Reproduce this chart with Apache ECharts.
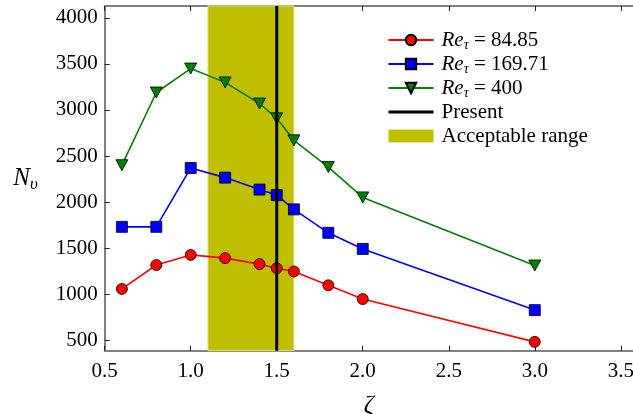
<!DOCTYPE html>
<html>
<head>
<meta charset="utf-8">
<script src="https://cdn.jsdelivr.net/npm/echarts@6/dist/echarts.min.js"></script>
<style>
html,body{margin:0;padding:0;background:#fff;}
#chart{width:633px;height:414px;}
</style>
</head>
<body>
<div id="chart"></div>
<script>
// ---- data ----
var zeta = [0.6, 0.8, 1.0, 1.2, 1.4, 1.5, 1.6, 1.8, 2.0, 3.0];
var re85  = [1055, 1315, 1425, 1390, 1325, 1280, 1245, 1095, 945, 480];
var re170 = [1730, 1730, 2370, 2265, 2135, 2075, 1920, 1665, 1490, 825];
var re400 = [2400, 3190, 3450, 3300, 3070, 2910, 2670, 2380, 2050, 1310];
var presentZeta = 1.5;
var acceptableRange = [1.1, 1.6];
var xTicks = [0.5, 1.0, 1.5, 2.0, 2.5, 3.0, 3.5];
var yTicks = [500, 1000, 1500, 2000, 2500, 3000, 3500, 4000];
var xMin = 0.5, xMax = 3.571;
var yMin = 384, yMax = 4130;

var FONT = '"Liberation Serif", "Times New Roman", serif';
function pairs(ys){ return zeta.map(function(x,i){ return [x, ys[i]]; }); }

var chart = echarts.init(document.getElementById('chart'), null, {renderer:'canvas'});

var axisLineStyle = {color:'#808080', width:2};
var tickStyle = {color:'#222', width:1};

var reRich = {
  i:{fontFamily:FONT, fontStyle:'italic', fontSize:21, color:'#000', lineHeight:24, padding:[0,0,0,3]},
  s:{fontFamily:FONT, fontStyle:'italic', fontSize:14, color:'#000', lineHeight:14, padding:[10,0,0,0]},
  n:{fontFamily:FONT, fontSize:21, color:'#000', lineHeight:24},
  m:{fontFamily:FONT, fontSize:21, color:'#000', lineHeight:24, padding:[0,0,0,3]}
};

var option = {
  animation:false,
  backgroundColor:'#fff',
  textStyle:{fontFamily:FONT},
  grid:{left:104.7, right:0, top:6, bottom:63.3, containLabel:false, outerBoundsMode:'none'},
  xAxis:[{
    type:'value', min:xMin, max:xMax, position:'bottom',
    name:'ζ', nameLocation:'middle', nameGap:43,
    nameTextStyle:{fontFamily:FONT, fontStyle:'italic', fontSize:25, color:'#000'},
    axisLine:{show:true, onZero:false, lineStyle:axisLineStyle},
    axisTick:{show:true, inside:true, length:5, lineStyle:tickStyle, customValues:xTicks},
    axisLabel:{show:true, margin:10, fontFamily:FONT, fontSize:21, color:'#000',
      customValues:xTicks, formatter:function(v){ return Number(v).toFixed(1); }},
    splitLine:{show:false}
  },{
    type:'value', min:xMin, max:xMax, position:'top',
    axisLine:{show:true, onZero:false, lineStyle:axisLineStyle},
    axisTick:{show:true, inside:true, length:5, lineStyle:tickStyle, customValues:xTicks},
    axisLabel:{show:false},
    splitLine:{show:false}
  }],
  yAxis:[{
    type:'value', min:yMin, max:yMax,
    name:'{n|N}{s|υ}', nameLocation:'middle', nameRotate:0, nameGap:67,
    nameTextStyle:{rich:{
      n:{fontFamily:FONT, fontStyle:'italic', fontSize:25, color:'#000'},
      s:{fontFamily:FONT, fontStyle:'italic', fontSize:17, color:'#000', padding:[12,0,0,0]}
    }},
    axisLine:{show:true, onZero:false, lineStyle:axisLineStyle},
    axisTick:{show:true, inside:true, length:5, lineStyle:tickStyle, customValues:yTicks},
    axisLabel:{show:true, margin:7, fontFamily:FONT, fontSize:21, color:'#000', customValues:yTicks,
      formatter:function(v){ return String(Math.round(v)); }},
    splitLine:{show:false}
  }],
  legend:{
    orient:'vertical', left:387, top:28, padding:0,
    itemWidth:45, itemHeight:13, itemGap:0,
    textStyle:{fontFamily:FONT, fontSize:21, color:'#000', lineHeight:24, rich:reRich},
    data:[
      {name:'re85'}, {name:'re170'}, {name:'re400'},
      {name:'Present', itemStyle:{opacity:0}, lineStyle:{width:3, color:'#000'}},
      {name:'Acceptable range', icon:'rect', itemStyle:{color:'#BFBF00', borderColor:'#E2E28A', borderWidth:1}}
    ],
    formatter:function(name){
      if(name==='re85') return '{i|Re}{s|τ}{n| = 84.85}';
      if(name==='re170') return '{i|Re}{s|τ}{n| = 169.71}';
      if(name==='re400') return '{i|Re}{s|τ}{n| = 400}';
      return '{m|'+name+'}';
    }
  },
  series:[
    {
      name:'Acceptable range', type:'line', data:[], z:1,
      itemStyle:{color:'#BFBF00'},
      markArea:{silent:true, z:1,
        itemStyle:{color:'#BFBF00', opacity:1, borderColor:'#E2E28A', borderWidth:1},
        data:[[{xAxis:acceptableRange[0]},{xAxis:acceptableRange[1]}]]}
    },
    {
      name:'re85', type:'line', data:pairs(re85), z:3,
      symbol:'circle', symbolSize:11,
      lineStyle:{color:'#FF0000', width:1.6},
      itemStyle:{color:'#FF0000', borderColor:'#000', borderWidth:0.8}
    },
    {
      name:'re170', type:'line', data:pairs(re170), z:3,
      symbol:'rect', symbolSize:11,
      lineStyle:{color:'#0000FF', width:1.6},
      itemStyle:{color:'#0000FF', borderColor:'#000', borderWidth:0.8}
    },
    {
      name:'re400', type:'line', data:pairs(re400), z:3,
      symbol:'path://M0,0 L10,0 L5,9 Z', symbolSize:[12,11],
      lineStyle:{color:'#008000', width:1.6},
      itemStyle:{color:'#008000', borderColor:'#000', borderWidth:0.8}
    },
    {
      name:'Present', type:'line', z:5, symbol:'none',
      data:[[presentZeta, yMin],[presentZeta, yMax]],
      lineStyle:{color:'#000', width:3},
      itemStyle:{color:'#000'}
    }
  ]
};
chart.setOption(option);
</script>
</body>
</html>
